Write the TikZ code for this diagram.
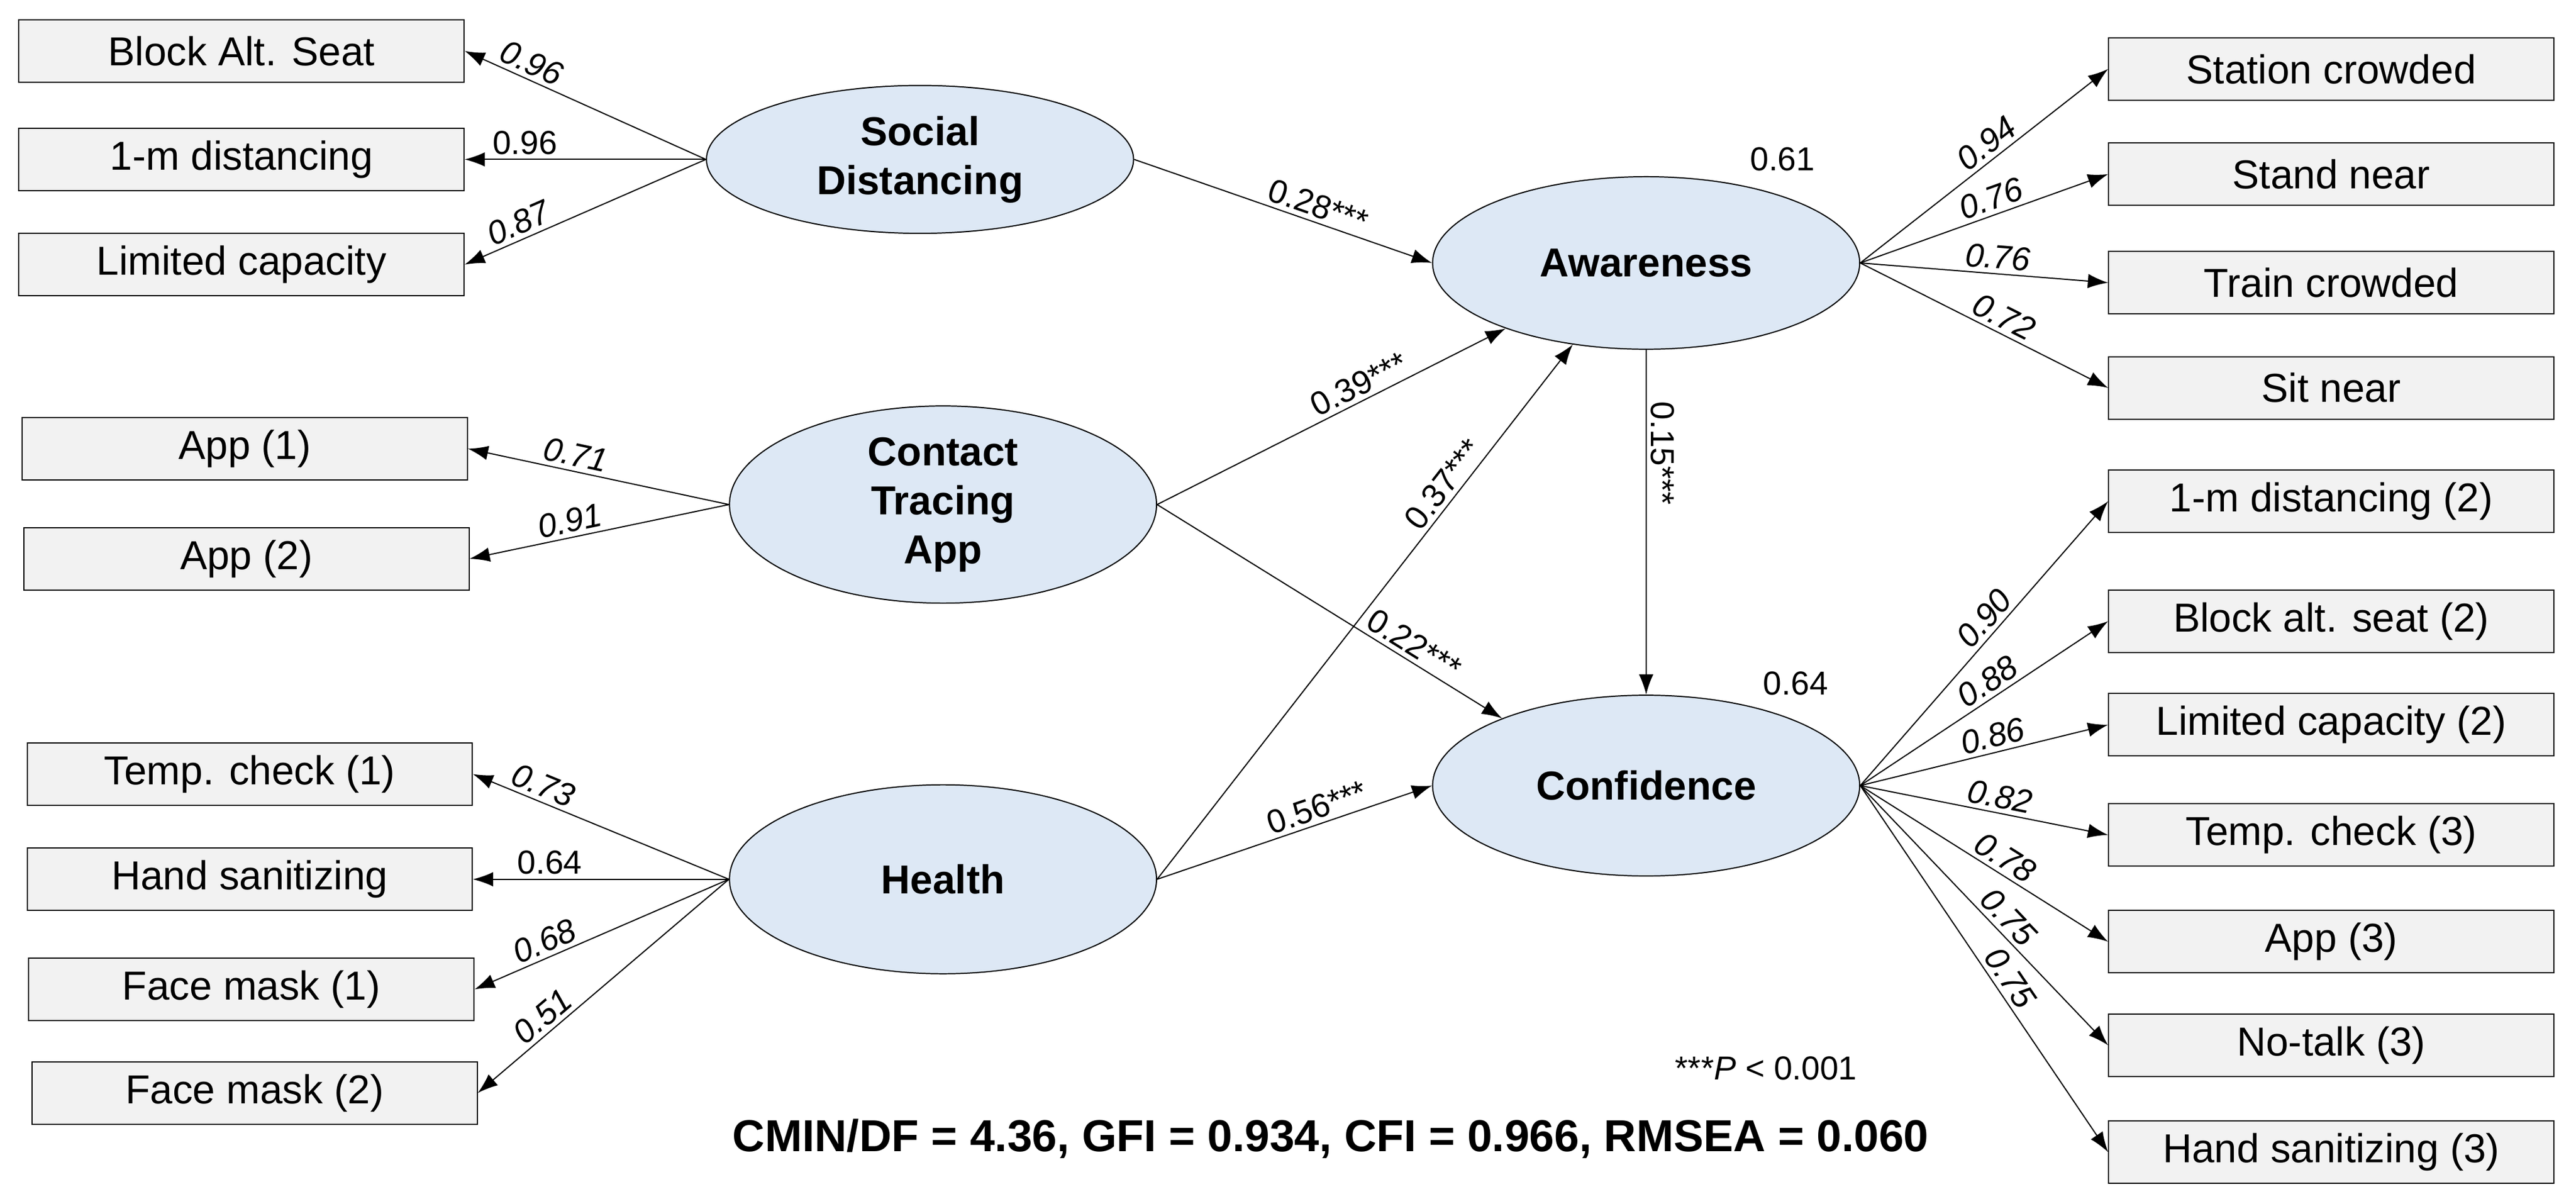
\documentclass[tikz,border=0pt]{standalone}
\usepackage{fontspec}
\setmainfont{Liberation Sans}
\usetikzlibrary{arrows.meta,shapes.geometric}
\definecolor{latentblue}{RGB}{221,232,245}
\definecolor{boxgrey}{RGB}{242,242,242}
\tikzset{
  item/.style={draw, fill=boxgrey, minimum width=5.42cm, minimum height=0.76cm, inner sep=0pt, font=\fontsize{14}{16}\selectfont},
  latent/.style={draw, ellipse, fill=latentblue, minimum width=5.2cm, inner sep=0pt, align=center, font=\fontsize{14}{17}\selectfont\bfseries},
  path/.style={-{Latex[length=7pt,width=5pt]}, thin},
  coef/.style={sloped, above, inner sep=1.5pt, font=\fontsize{11.5}{13}\selectfont\itshape},
  plain/.style={sloped, above, inner sep=1.5pt, font=\fontsize{11.5}{13}\selectfont}
}
\begin{document}
\begin{tikzpicture}[x=0.02cm,y=-0.02cm]
\useasboundingbox (0,0) rectangle (1568,729.3);

% latent variables
\node[latent, minimum height=1.8cm] (sd) at (560,97) {Social\\Distancing};
\node[latent, minimum height=2.4cm] (cta) at (574,307) {Contact\\Tracing\\App};
\node[latent, minimum height=2.3cm] (hl) at (574,535) {Health};
\node[latent, minimum height=2.1cm] (aw) at (1002,160) {Awareness};
\node[latent, minimum height=2.2cm] (cf) at (1002,478) {Confidence};

% left items
\node[item] (sd1) at (147,31) {Block Alt. Seat};
\node[item] (sd2) at (147,97) {1-m distancing};
\node[item] (sd3) at (147,161) {Limited capacity};
\node[item] (ct1) at (149,273) {App (1)};
\node[item] (ct2) at (150,340) {App (2)};
\node[item] (hl1) at (152,471) {Temp. check (1)};
\node[item] (hl2) at (152,535) {Hand sanitizing};
\node[item] (hl3) at (153,602) {Face mask (1)};
\node[item] (hl4) at (155,665) {Face mask (2)};

% right items
\node[item] (aw1) at (1419,42) {Station crowded};
\node[item] (aw2) at (1419,106) {Stand near};
\node[item] (aw3) at (1419,172) {Train crowded};
\node[item] (aw4) at (1419,236) {Sit near};
\node[item] (cf1) at (1419,305) {1-m distancing (2)};
\node[item] (cf2) at (1419,378) {Block alt. seat (2)};
\node[item] (cf3) at (1419,441) {Limited capacity (2)};
\node[item] (cf4) at (1419,508) {Temp. check (3)};
\node[item] (cf5) at (1419,573) {App (3)};
\node[item] (cf6) at (1419,636) {No-talk (3)};
\node[item] (cf7) at (1419,701) {Hand sanitizing (3)};

% loadings
\draw[path] (sd.west) -- (sd1.east) node[coef, pos=0.75] {0.96};
\draw[path] (sd.west) -- (sd2.east) node[plain, pos=0.75] {0.96};
\draw[path] (sd.west) -- (sd3.east) node[coef, pos=0.75] {0.87};
\draw[path] (cta.west) -- (ct1.east) node[coef, pos=0.6] {0.71};
\draw[path] (cta.west) -- (ct2.east) node[coef, pos=0.6] {0.91};
\draw[path] (hl.west) -- (hl1.east) node[coef, pos=0.75] {0.73};
\draw[path] (hl.west) -- (hl2.east) node[plain, pos=0.7] {0.64};
\draw[path] (hl.west) -- (hl3.east) node[coef, pos=0.7] {0.68};
\draw[path] (hl.west) -- (hl4.east) node[coef, pos=0.7] {0.51};

\foreach \t/\v in {aw1/0.94, aw2/0.76, aw3/0.76, aw4/0.72}
  \draw[path] (aw.east) -- (\t.west) node[coef, pos=0.55] {\v};
\foreach \t/\v in {cf1/0.90, cf2/0.88, cf3/0.86, cf4/0.82, cf5/0.78, cf6/0.75, cf7/0.75}
  \draw[path] (cf.east) -- (\t.west) node[coef, pos=0.55] {\v};

% structural paths
\draw[path] (sd.east) -- (aw.west) node[plain, pos=0.6] {0.28***};
\draw[path] (cta.east) -- (aw.205) node[plain, pos=0.6] {0.39***};
\draw[path] (cta.east) -- (cf.155) node[plain, pos=0.72] {0.22***};
\draw[path] (hl.east) -- (aw.228) node[plain, pos=0.72] {0.37***};
\draw[path] (hl.east) -- (cf.west) node[plain, pos=0.6] {0.56***};
\draw[path] (aw) -- (cf) node[plain, pos=0.3] {0.15***};

% R squared and notes
\node[font=\fontsize{11.5}{13}\selectfont] (r2aw) at (1085,97) {0.61};
\node[font=\fontsize{11.5}{13}\selectfont] (r2cf) at (1093,416) {0.64};
\node[font=\fontsize{11.5}{13}\selectfont] (note) at (1075,650) {***\textit{P} < 0.001};
\node[font=\fontsize{15.5}{18}\selectfont\bfseries] (fit) at (810,693) {CMIN/DF = 4.36, GFI = 0.934, CFI = 0.966, RMSEA = 0.060};
\end{tikzpicture}
\end{document}
